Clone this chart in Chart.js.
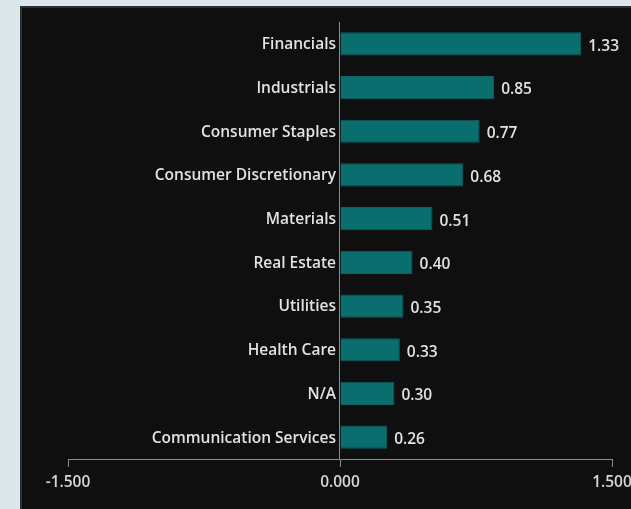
<!DOCTYPE html>
<html>
<head>
<meta charset="utf-8">
<script src="https://cdn.jsdelivr.net/npm/chart.js@4.4.1/dist/chart.umd.min.js"></script>
<style>
    html, body { margin: 0; padding: 0; background: #dce7ec; }
    #panel {
        position: absolute; left: 20px; top: 6px;
        width: 609px; height: 501px;
        background: #0f0f0f;
        border-top: 2px solid #2f2f2f; border-left: 2px solid #2f2f2f;
    }
    canvas { display: block; }
</style>
</head>
<body>
<div id="panel"><canvas id="chart" width="609" height="501"></canvas></div>
<script>
const sectors = [
    'Financials', 'Industrials', 'Consumer Staples', 'Consumer Discretionary', 'Materials',
    'Real Estate', 'Utilities', 'Health Care', 'N/A', 'Communication Services',
];
const weights = [1.33, 0.85, 0.77, 0.68, 0.51, 0.40, 0.35, 0.33, 0.30, 0.26];
const axisMin = -1.5;
const axisMax = 1.5;
const axisStep = 1.5;

const textColor = '#e2e2e2';
const lineColor = '#8c8c8c';
const fontFamily = '"Open Sans", "Noto Sans", sans-serif';
const labelFont = '600 15.5px ' + fontFamily;

// zero line + sector names left of it + values after each bar
const barLabels = {
    id: 'barLabels',
    afterDatasetsDraw(chart) {
        const { ctx, chartArea, scales } = chart;
        const zeroX = scales.x.getPixelForValue(0);
        ctx.save();
        ctx.strokeStyle = lineColor;
        ctx.lineWidth = 1;
        ctx.beginPath();
        ctx.moveTo(Math.round(zeroX) - 0.5, chartArea.top);
        ctx.lineTo(Math.round(zeroX) - 0.5, chartArea.bottom);
        ctx.stroke();

        ctx.font = labelFont;
        ctx.fillStyle = textColor;
        ctx.textBaseline = 'middle';
        const meta = chart.getDatasetMeta(0);
        meta.data.forEach((bar, i) => {
            ctx.textAlign = 'right';
            ctx.fillText(sectors[i], zeroX - 4, bar.y + 1);
            ctx.textAlign = 'left';
            ctx.fillText(weights[i].toFixed(2), bar.x + 7, bar.y + 2.5);
        });
        ctx.restore();
    },
};

new Chart(document.getElementById('chart'), {
    type: 'bar',
    data: {
        labels: sectors,
        datasets: [{
            data: weights,
            backgroundColor: '#0a6e6f',
            borderColor: '#0a6363',
            borderWidth: 1,
            barPercentage: 0.53,
            categoryPercentage: 1,
        }],
    },
    options: {
        indexAxis: 'y',
        responsive: false,
        animation: false,
        layout: { padding: { left: 46, right: 19, top: 14, bottom: 0 } },
        plugins: { legend: { display: false }, tooltip: { enabled: false } },
        scales: {
            y: { display: false },
            x: {
                min: axisMin,
                max: axisMax,
                afterBuildTicks(scale) {
                    const ticks = [];
                    for (let v = axisMin; v <= axisMax + 1e-9; v += axisStep) ticks.push({ value: v });
                    scale.ticks = ticks;
                },
                afterFit(scale) {
                    scale.height = 50;
                    scale.paddingLeft = 0;
                    scale.paddingRight = 0;
                },
                border: { display: true, color: lineColor, width: 1 },
                grid: { drawOnChartArea: false, drawTicks: true, tickLength: 8, color: lineColor },
                ticks: {
                    color: '#d6d6d6',
                    padding: 6,
                    maxRotation: 0,
                    font: { family: fontFamily, size: 15.5, weight: '600' },
                    callback: (v) => Number(v).toFixed(3),
                },
            },
        },
    },
    plugins: [barLabels],
});
</script>
</body>
</html>
